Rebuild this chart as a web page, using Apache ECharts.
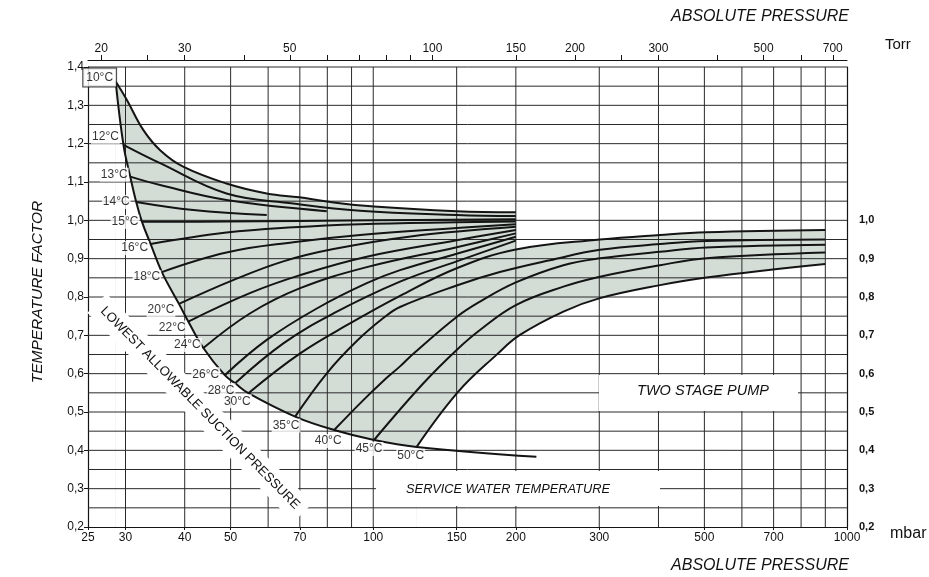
<!DOCTYPE html>
<html><head><meta charset="utf-8">
<script src="https://cdn.jsdelivr.net/npm/echarts@6/dist/echarts.min.js"></script>
<style>html,body{margin:0;padding:0;background:#fff}#c{width:929px;height:577px}</style>
</head><body><div id="c"></div><script>
// ---- axis / grid values ----
const mbarTicks = [25,30,40,50,70,100,150,200,300,500,700,1000];
const torrTicks = [20,30,50,100,150,200,300,500,700];
const torrMinorTicks = [25,40,60,70,80,90,250,400,600];
const gridPressures = [30,40,50,60,70,80,90,100,150,200,300,400,500,600,700,800,900];
const gridFactors = [0.25,0.3,0.35,0.4,0.45,0.5,0.55,0.6,0.65,0.7,0.75,0.8,0.85,0.9,0.95,1.0,1.05,1.1,1.15,1.2,1.25,1.3,1.35,1.4];
const MBAR_TO_TORR = 0.750062;

// ---- curves: [pressure mbar, temperature factor] ----
const lowestAllowable = [[28.6,1.362],[29.7,1.197],[30.7,1.114],[31.6,1.048],[32.5,0.996],[33.9,0.938],[35.8,0.865],[38.9,0.782],[40.7,0.736],[43.8,0.667],[48.6,0.596],[51.1,0.575],[54.5,0.549],[68.4,0.488],[82.7,0.453],[100.4,0.427],[123.5,0.409],[221,0.383]];
const t10 = [[28.6,1.362],[30.2,1.314],[32.7,1.236],[35.5,1.183],[39.7,1.14],[49,1.096],[59.6,1.07],[69.8,1.06],[79.8,1.049],[100.4,1.036],[150,1.024],[200,1.021]];
const t12 = [[29.7,1.197],[35.5,1.149],[49,1.07],[67.8,1.044],[93.8,1.025],[150,1.014],[200,1.011]];
const t13 = [[30.7,1.114],[35.5,1.092],[49,1.053],[79.8,1.024]];
const t14 = [[31.6,1.048],[41.7,1.027],[59.6,1.014]];
const t15 = [[32.5,0.996],[49,0.997],[100,1.0],[200,1.003]];
const t16 = [[33.9,0.938],[49,0.968],[67.8,0.982],[93.8,0.99],[150,0.995],[200,0.997]];
const t18 = [[35.8,0.865],[49,0.916],[67.8,0.943],[93.8,0.962],[150,0.980],[200,0.990]];
const t20 = [[38.9,0.782],[50.6,0.844],[64.6,0.893],[82.4,0.925],[120,0.958],[200,0.983]];
const t22 = [[40.7,0.736],[54.9,0.81],[70.1,0.857],[96.9,0.905],[150,0.948],[200,0.975]];
const t24 = [[43.8,0.667],[54.9,0.757],[70.1,0.823],[96.9,0.878],[150,0.930],[200,0.966]];
const t26 = [[48.6,0.596],[59.6,0.688],[76,0.770],[96.9,0.836],[113.9,0.870],[150,0.913],[200,0.957]];
const t28 = [[51.1,0.575],[64.6,0.679],[82.4,0.757],[113.9,0.840],[150,0.893],[200,0.947]];
const t30 = [[54.5,0.549],[70.1,0.653],[89.3,0.731],[113.9,0.803],[150,0.875],[200,0.924],[301,0.950],[403,0.962],[505,0.969],[900,0.975]];
const t35 = [[68.4,0.488],[79.8,0.601],[92.3,0.685],[105,0.745],[113.9,0.774],[150,0.830],[185,0.865],[236,0.896],[301,0.923],[403,0.938],[505,0.946],[900,0.950]];
const t40 = [[82.7,0.453],[95.3,0.531],[105,0.581],[113.9,0.619],[121.5,0.652],[150,0.748],[168,0.788],[200,0.838],[252,0.883],[301,0.901],[403,0.918],[505,0.929],[900,0.936]];
const t45 = [[100.4,0.427],[127.6,0.575],[150,0.662],[168,0.714],[200,0.779],[252,0.827],[301,0.853],[403,0.883],[505,0.901],[900,0.916]];
const t50 = [[123.5,0.409],[151.2,0.553],[182,0.649],[204,0.701],[252,0.762],[301,0.797],[403,0.831],[505,0.851],[900,0.886]];

const tempNames = ['10°C','12°C','13°C','14°C','15°C','16°C','18°C','20°C','22°C','24°C','26°C','28°C','30°C','35°C','40°C','45°C','50°C'];
const tempCurves = [t10,t12,t13,t14,t15,t16,t18,t20,t22,t24,t26,t28,t30,t35,t40,t45,t50];

// label pixel offsets from the start of each curve (style only)
const labelOffsets = [[-16,-4],[-18,-8],[-16,-2],[-20,0],[-17,0],[-16,4],[-15,5],[-18,6],[-16,6],[-16,-3],[-19,-1],[-14,7],[-11,8],[-9,9],[-6,11],[-5,9],[-6,9]];

const FONT = "'Liberation Sans', Arial, sans-serif";
const FILL = '#d3ddd6';
const INK = '#141414';
const SMOOTH = 0.4;

const chart = echarts.init(document.getElementById('c'), null, {renderer:'canvas'});

const fillSeries = (data, color, z) => ({
  type:'line', data, smooth:SMOOTH, symbol:'none', silent:true, z,
  lineStyle:{width:0, opacity:0}, areaStyle:{color, opacity:1, origin:'start'}
});
const curveSeries = (data) => ({
  type:'line', data, smooth:SMOOTH, symbol:'none', silent:true, z:5,
  lineStyle:{color:INK, width:2}
});

const series = [
  fillSeries(t10, FILL, 1),
  fillSeries(t30.filter(d => d[0] >= 200), FILL, 1),
  fillSeries(lowestAllowable.filter(d => d[0] <= 123.5), '#ffffff', 2),
  fillSeries(t50, '#ffffff', 2),
  {
    type:'custom', silent:true, z:3,
    data: gridPressures.map(p => [p, 0.2]),
    renderItem: (params, api) => {
      const a = api.coord([api.value(0), 0.2]);
      const b = api.coord([api.value(0), 1.4]);
      return {type:'line', shape:{x1:a[0],y1:a[1],x2:b[0],y2:b[1]}, style:{stroke:'#2a2a2a', lineWidth:1}};
    }
  },
  {
    type:'custom', silent:true, z:3,
    data: gridFactors.map(f => [25, f]),
    renderItem: (params, api) => {
      const a = api.coord([25, api.value(1)]);
      const b = api.coord([1000, api.value(1)]);
      return {type:'line', shape:{x1:a[0],y1:a[1],x2:b[0],y2:b[1]}, style:{stroke:'#2a2a2a', lineWidth:1}};
    }
  },
  curveSeries(lowestAllowable),
  ...tempCurves.map(c => curveSeries(c)),
  {
    type:'scatter', silent:true, z:7, symbolSize:0,
    data: tempCurves.map((c, i) => ({
      value: c[0], name: tempNames[i],
      label: {offset: labelOffsets[i],
        borderColor: i === 0 ? INK : 'transparent', borderWidth: i === 0 ? 1 : 0,
        padding: i === 0 ? [3,3,3,3] : [1,1]}
    })),
    label: {show:true, position:'inside', formatter:'{b}', color:'#000', fontFamily:FONT, fontSize:12,
      backgroundColor:'#fff'}
  }
];

const axisText = {color:'#111', fontFamily:FONT, fontSize:12};
const option = {
  animation:false,
  backgroundColor:'#fff',
  grid:{left:88, right:82, top:67, bottom:50},
  xAxis:[
    {type:'log', logBase:10, min:25, max:1000, position:'bottom',
      axisLine:{show:true, lineStyle:{color:INK, width:1.2}},
      axisTick:{show:true, customValues:mbarTicks, length:3, lineStyle:{color:INK}},
      axisLabel:Object.assign({customValues:mbarTicks, margin:5, formatter:v => String(Math.round(v))}, axisText),
      splitLine:{show:false}, minorTick:{show:false}, minorSplitLine:{show:false}},
    {type:'log', logBase:10, min:25*MBAR_TO_TORR, max:1000*MBAR_TO_TORR, position:'top', offset:7,
      axisLine:{show:true, lineStyle:{color:INK, width:1.2}},
      axisTick:{show:true, customValues:torrTicks.concat(torrMinorTicks), length:5, lineStyle:{color:INK}},
      axisLabel:Object.assign({customValues:torrTicks, margin:5, formatter:v => String(Math.round(v))}, axisText),
      splitLine:{show:false}, minorTick:{show:false}}
  ],
  yAxis:[
    {type:'value', min:0.2, max:1.4, interval:0.1, position:'left',
      axisLine:{show:true, lineStyle:{color:INK, width:1.2}},
      axisTick:{show:true, length:4, lineStyle:{color:INK}},
      axisLabel:Object.assign({margin:4, formatter:v => v.toFixed(1).replace('.', ',')}, axisText),
      splitLine:{show:false}},
    {type:'value', min:0.2, max:1.4, interval:0.1, position:'right',
      axisLine:{show:true, lineStyle:{color:INK, width:1.2}},
      axisTick:{show:false},
      axisLabel:Object.assign({margin:12, formatter:v => v <= 1.0001 ? v.toFixed(1).replace('.', ',') : ''}, axisText, {fontWeight:'bold', fontSize:11}),
      splitLine:{show:false}}
  ],
  graphic:[
    {type:'text', x:760, y:17, z:100, style:{text:'ABSOLUTE PRESSURE', font:"italic 16px 'Liberation Sans', Arial, sans-serif", fill:'#111', align:'center', verticalAlign:'middle'}},
    {type:'text', x:760, y:566, z:100, style:{text:'ABSOLUTE PRESSURE', font:"italic 16px 'Liberation Sans', Arial, sans-serif", fill:'#111', align:'center', verticalAlign:'middle'}},
    {type:'text', x:885, y:45, z:100, style:{text:'Torr', font:"15px 'Liberation Sans', Arial, sans-serif", fill:'#111', align:'left', verticalAlign:'middle'}},
    {type:'text', x:890, y:534, z:100, style:{text:'mbar', font:"16px 'Liberation Sans', Arial, sans-serif", fill:'#111', align:'left', verticalAlign:'middle'}},
    {type:'text', x:38, y:292, rotation:Math.PI/2, z:100, style:{text:'TEMPERATURE FACTOR', font:"italic 15.5px 'Liberation Sans', Arial, sans-serif", fill:'#111', align:'center', verticalAlign:'middle'}},
    {type:'text', x:200, y:408, rotation:-0.794, z:100, style:{text:'LOWEST ALLOWABLE SUCTION PRESSURE', font:"13.2px 'Liberation Sans', Arial, sans-serif", fill:'#111', align:'center', verticalAlign:'middle', backgroundColor:'#fff', padding:[7,8]}},
    {type:'rect', z:100, shape:{x:599, y:375, width:199, height:36}, style:{fill:'#fff'}},
    {type:'text', x:703, y:391, z:101, style:{text:'TWO STAGE PUMP', font:"italic 14.5px 'Liberation Sans', Arial, sans-serif", fill:'#111', align:'center', verticalAlign:'middle'}},
    {type:'rect', z:100, shape:{x:376, y:471, width:284, height:35}, style:{fill:'#fff'}},
    {type:'text', x:508, y:489, z:101, style:{text:'SERVICE WATER TEMPERATURE', font:"italic 12.8px 'Liberation Sans', Arial, sans-serif", fill:'#111', align:'center', verticalAlign:'middle'}}
  ],
  series
};
chart.setOption(option);
</script></body></html>
